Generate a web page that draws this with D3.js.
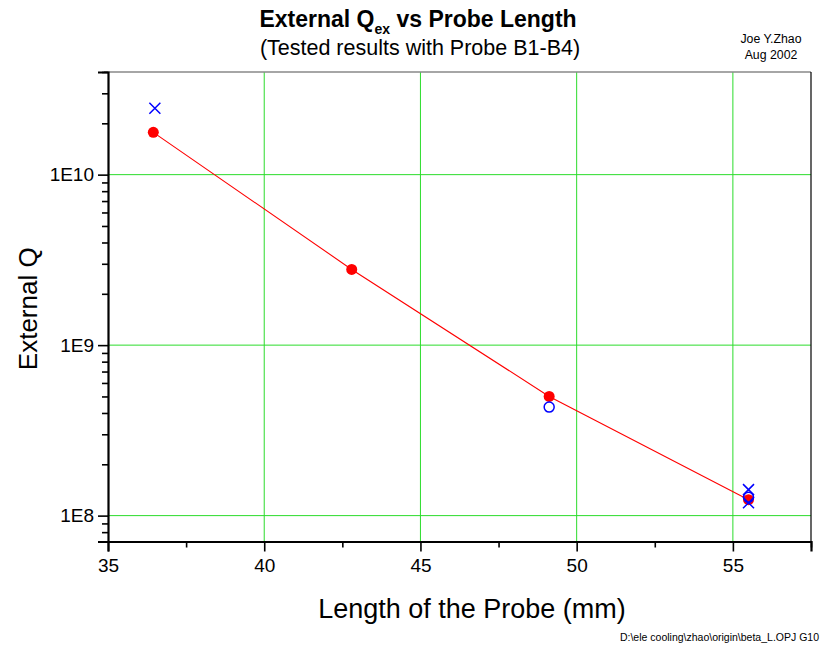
<!DOCTYPE html>
<html><head><meta charset="utf-8">
<script src="https://cdn.jsdelivr.net/npm/d3@7"></script>
<style>body{margin:0;background:#fff;} svg{display:block;font-family:"Liberation Sans",Arial,sans-serif;}</style>
</head><body>
<script>
// Data
const fitLength = [36.45, 42.8, 49.12, 55.5];
const fitQ = [1.77e10, 2.78e9, 5.0e8, 1.24e8];
const circleLength = [49.12, 55.5];
const circleQ = [4.33e8, 1.28e8];
const crossLength = [36.5, 55.5, 55.5];
const crossQ = [2.45e10, 1.42e8, 1.19e8];
const xTicks = [35, 40, 45, 50, 55];
const xMinorTicks = [37.5, 42.5, 47.5, 52.5, 57.5];
const yTicks = [1e8, 1e9, 1e10];
const yTickLabels = ["1E8", "1E9", "1E10"];

const W = 833, H = 646;
const m = {left: 108, right: 811, top: 72, bottom: 541.5};
const svg = d3.select("body").append("svg").attr("width", W).attr("height", H);

const x = d3.scaleLinear().domain([35, 57.5]).range([m.left, m.right]);
const y = d3.scaleLog().domain([7.05e7, 4.0e10]).range([m.bottom, m.top]);

const green = "#2bdc2b";
// grid
svg.append("g").selectAll("line").data(xTicks.slice(1)).join("line")
  .attr("x1", d => x(d)).attr("x2", d => x(d)).attr("y1", m.top).attr("y2", m.bottom)
  .attr("stroke", green).attr("stroke-width", 1);
svg.append("g").selectAll("line").data(yTicks).join("line")
  .attr("y1", d => y(d)).attr("y2", d => y(d)).attr("x1", m.left).attr("x2", m.right)
  .attr("stroke", green).attr("stroke-width", 1);

// frame top & right
svg.append("line").attr("x1", m.left - 4).attr("x2", m.right).attr("y1", m.top).attr("y2", m.top)
  .attr("stroke", "#888").attr("stroke-width", 1.5);
svg.append("line").attr("x1", m.right).attr("x2", m.right).attr("y1", m.top).attr("y2", m.bottom)
  .attr("stroke", "#000").attr("stroke-width", 1.2);

// x axis
svg.append("g").attr("transform", `translate(0,${m.bottom})`)
  .call(d3.axisBottom(x).tickValues(xTicks).tickFormat(d3.format("d")).tickSize(10).tickPadding(7));
svg.append("g").attr("transform", `translate(0,${m.bottom})`)
  .call(d3.axisBottom(x).tickValues(xMinorTicks).tickFormat("").tickSize(6))
  .call(g => g.select(".domain").remove());
// y axis
const yMinor = [];
for (let e = 7; e <= 10; e++) for (let k = 2; k <= 9; k++) { const v = k * Math.pow(10, e); if (v >= 7.05e7 && v <= 4.01e10) yMinor.push(v); }
svg.append("g").attr("transform", `translate(${m.left},0)`)
  .call(d3.axisLeft(y).tickValues(yMinor).tickFormat("").tickSize(6))
  .call(g => g.select(".domain").remove());
svg.append("g").attr("transform", `translate(${m.left},0)`)
  .call(d3.axisLeft(y).tickValues(yTicks).tickFormat((d, i) => yTickLabels[i]).tickSize(10).tickPadding(4));

svg.selectAll(".domain").attr("stroke", "#000").attr("stroke-width", 2.2);
svg.selectAll(".tick line").attr("stroke", "#000").attr("stroke-width", 1.6);
svg.selectAll(".tick text").attr("font-family", "Liberation Sans, Arial, sans-serif").attr("font-size", 19).attr("fill", "#000");

// red fit line & points
svg.append("path").datum(d3.range(fitLength.length))
  .attr("fill", "none").attr("stroke", "#ff0000").attr("stroke-width", 1.1)
  .attr("d", d3.line().x(i => x(fitLength[i])).y(i => y(fitQ[i])));
svg.append("g").selectAll("circle").data(d3.range(fitLength.length)).join("circle")
  .attr("cx", i => x(fitLength[i])).attr("cy", i => y(fitQ[i])).attr("r", 5.5).attr("fill", "#ff0000");
// blue open circles
svg.append("g").selectAll("circle").data(d3.range(circleLength.length)).join("circle")
  .attr("cx", i => x(circleLength[i])).attr("cy", i => y(circleQ[i])).attr("r", 5)
  .attr("fill", "none").attr("stroke", "#0000ff").attr("stroke-width", 1.5);
// blue crosses
svg.append("g").selectAll("path").data(d3.range(crossLength.length)).join("path")
  .attr("d", i => { const cx = x(crossLength[i]), cy = y(crossQ[i]), s = 5.5;
    return `M${cx - s},${cy - s}L${cx + s},${cy + s}M${cx - s},${cy + s}L${cx + s},${cy - s}`; })
  .attr("stroke", "#0000ff").attr("stroke-width", 1.5).attr("fill", "none");

// titles
const t = svg.append("text").attr("x", 418).attr("y", 27).attr("text-anchor", "middle")
  .attr("font-size", 23).attr("font-weight", "bold").attr("fill", "#000");
t.append("tspan").text("External Q");
t.append("tspan").attr("font-size", 14).attr("dy", 7).text("ex");
t.append("tspan").attr("dy", -7).text(" vs Probe Length");
svg.append("text").attr("x", 420).attr("y", 55).attr("text-anchor", "middle")
  .attr("font-size", 21.5).attr("fill", "#000").text("(Tested results with Probe B1-B4)");
svg.append("text").attr("x", 771).attr("y", 43).attr("text-anchor", "middle")
  .attr("font-size", 12.3).attr("fill", "#000").text("Joe Y.Zhao");
svg.append("text").attr("x", 771).attr("y", 59).attr("text-anchor", "middle")
  .attr("font-size", 12.3).attr("fill", "#000").text("Aug 2002");
svg.append("text").attr("transform", `translate(37,${(m.top + m.bottom) / 2 + 2}) rotate(-90)`)
  .attr("text-anchor", "middle").attr("font-size", 26).attr("fill", "#000").text("External Q");
svg.append("text").attr("x", 472).attr("y", 618).attr("text-anchor", "middle")
  .attr("font-size", 27).attr("fill", "#000").text("Length of the Probe (mm)");
svg.append("text").attr("x", 819).attr("y", 641).attr("text-anchor", "end")
  .attr("font-size", 10.5).attr("fill", "#000").text("D:\\ele cooling\\zhao\\origin\\beta_L.OPJ G10");
</script>
</body></html>
